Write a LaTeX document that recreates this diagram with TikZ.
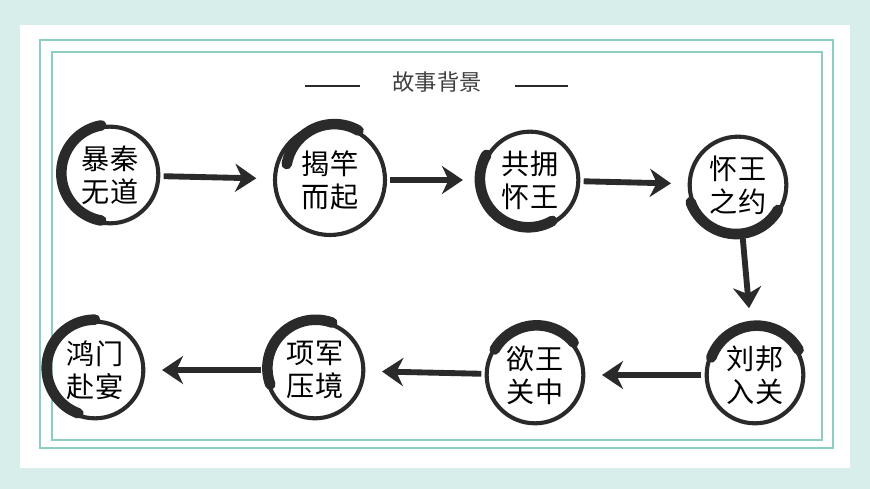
\documentclass[tikz,border=0pt]{standalone}
\usepackage{fontspec}
\newfontfamily\cjk{Noto Sans CJK SC}
\usetikzlibrary{positioning,arrows.meta}
\definecolor{bgteal}{HTML}{D8EEEA}
\definecolor{frameteal}{HTML}{8CCFC2}
\definecolor{ink}{HTML}{2A2A2A}
\tikzset{
  ring/.style={circle,draw=ink,line width=3.5pt,minimum size=2.9cm,align=center,
    font=\cjk\fontsize{24}{28}\selectfont,inner sep=0pt},
  inkarrow/.style={draw=ink,line width=5pt,-{Stealth[length=18pt,width=24pt]},
    shorten <=0.1cm,shorten >=0.5cm},
}
\newcommand{\brush}[3]{\draw[ink,line width=9pt,line cap=round] (#1.#2) arc[start angle=#2,end angle=#3,radius=1.45cm];}
\begin{document}
\begin{tikzpicture}[x=0.03cm,y=-0.03cm]
  \useasboundingbox (0,0) rectangle (870,489);
  \fill[bgteal] (0,0) rectangle (870,489);
  \fill[white] (20,25) rectangle (850,468);
  \draw[frameteal,line width=1.2pt] (40,40) rectangle (833,448);
  \draw[frameteal,line width=1.6pt] (52,52) rectangle (822,440);
  % title
  \node[font=\cjk\fontsize{19}{22}\selectfont,text=ink!90] (title) at (437,82) {故事背景};
  \draw[ink,line width=2pt] (305,86) -- (360,86);
  \draw[ink,line width=2pt] (515,86) -- (568,86);
  % rings
  \node[ring] (baoqin) at (110,175) {暴秦\\无道};
  \node[ring,minimum size=3.3cm] (jiegan) at (330,180) {揭竿\\而起};
  \node[ring] (gongyong) at (530,180) {共拥\\怀王};
  \node[ring] (huaiwang) at (738,185) {怀王\\之约};
  \node[ring] (liubang) at (755,375) {刘邦\\入关};
  \node[ring] (yuwang) at (535,375) {欲王\\关中};
  \node[ring] (xiangjun) at (315,370) {项军\\压境};
  \node[ring] (hongmen) at (95,370) {鸿门\\赴宴};
  \brush{baoqin}{100}{260}
  \brush{jiegan}{60}{170}
  \brush{gongyong}{150}{300}
  \brush{huaiwang}{200}{330}
  \brush{liubang}{30}{160}
  \brush{yuwang}{40}{150}
  \brush{xiangjun}{70}{200}
  \brush{hongmen}{90}{250}
  % arrows
  \draw[inkarrow] (baoqin) -- (jiegan);
  \draw[inkarrow] (jiegan) -- (gongyong);
  \draw[inkarrow] (gongyong) -- (huaiwang);
  \draw[inkarrow] (huaiwang) -- (liubang);
  \draw[inkarrow] (liubang) -- (yuwang);
  \draw[inkarrow] (yuwang) -- (xiangjun);
  \draw[inkarrow] (xiangjun) -- (hongmen);
\end{tikzpicture}
\end{document}
